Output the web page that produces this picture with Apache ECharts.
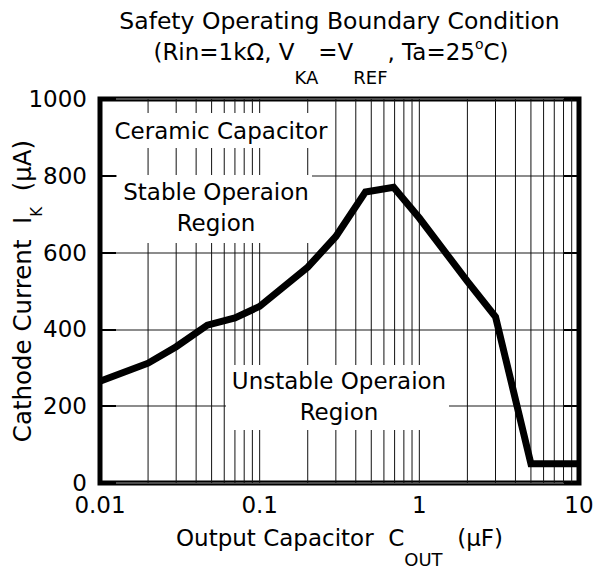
<!DOCTYPE html>
<html><head><meta charset="utf-8">
<script src="https://cdn.jsdelivr.net/npm/echarts@6/dist/echarts.min.js"></script>
<style>html,body{margin:0;padding:0;background:#fff}#c{width:595px;height:570px}</style>
</head><body><div id="c"></div>
<script>
// ---- data ----
const capacitanceUF = [0.01, 0.02, 0.03, 0.047, 0.07, 0.1, 0.2, 0.3, 0.46, 0.69, 1, 2, 3, 5, 10];
const cathodeCurrentUA = [265, 312, 355, 411, 430, 460, 562, 642, 758, 770, 690, 525, 433, 50, 50];
const xGridValues = [0.02,0.03,0.04,0.05,0.06,0.07,0.08,0.09,0.1,0.2,0.3,0.4,0.5,0.6,0.7,0.8,0.9,1,2,3,4,5,6,7,8,9];
const xTickLabels = ['0.01', '0.1', '1', '10'];
const yTickValues = [0, 200, 400, 600, 800, 1000];
const titleLine1 = 'Safety Operating Boundary Condition';
const titleLine2 = '(Rin=1k\u03A9, V{sub|KA}=V{sub|REF}, Ta=25{sup|o}C)';
const xName = 'Output Capacitor  C{sub|OUT}  (\u03BCF)';
const yName = 'Cathode Current  I{sub|K}  (\u03BCA)';
const regionCeramic = 'Ceramic Capacitor';
const regionStable = 'Stable Operaion\nRegion';
const regionUnstable = 'Unstable Operaion\nRegion';

const FONT = 'DejaVu Sans';
const chart = echarts.init(document.getElementById('c'), null, {renderer: 'svg'});

function box(x, y, w, h) {
  return {type: 'rect', z: 2, silent: true, shape: {x: x, y: y, width: w, height: h}, style: {fill: '#fff'}};
}
function label(text, x, y) {
  return {type: 'text', z: 2, silent: true, x: x, y: y,
    style: {text: text, fill: '#000', font: '23px "' + FONT + '"', align: 'center', verticalAlign: 'middle', lineHeight: 31}};
}

const option = {
  backgroundColor: '#fff',
  animation: false,
  grid: {left: 100, right: 16, top: 99, bottom: 87, containLabel: false, outerBoundsMode: 'none',
    show: true, borderColor: '#000', borderWidth: 5, backgroundColor: 'transparent'},
  xAxis: [{
    type: 'log', logBase: 10, min: 0.01, max: 10,
    name: xName, nameLocation: 'middle', nameGap: 25, nameMoveOverlap: false,
    nameTextStyle: {color: '#000', fontFamily: FONT, fontSize: 23,
      rich: {sub: {fontFamily: FONT, fontSize: 18, color: '#000', padding: [42, 0, 0, 0]}}},
    axisLine: {show: false}, axisTick: {show: false}, splitLine: {show: false},
    axisLabel: {color: '#000', fontFamily: FONT, fontSize: 23, margin: 12, lineHeight: 20,
      formatter: function (v) {
        const i = Math.round(Math.log10(v)) + 2;
        return xTickLabels[i] !== undefined ? xTickLabels[i] : '';
      }}
  }],
  yAxis: [{
    type: 'value', min: 0, max: 1000, interval: 200, position: 'left',
    name: yName, nameLocation: 'middle', nameGap: 56, nameMoveOverlap: false,
    nameTextStyle: {color: '#000', fontFamily: FONT, fontSize: 24.5,
      rich: {sub: {fontFamily: FONT, fontSize: 15, color: '#000', padding: [29, 0, 0, 0]}}},
    axisLine: {show: false},
    axisTick: {show: true, inside: true, length: 16, lineStyle: {color: '#000', width: 2}},
    splitLine: {show: true, lineStyle: {color: '#666', width: 1.5}},
    axisLabel: {color: '#000', fontFamily: FONT, fontSize: 23, margin: 13, lineHeight: 20,
      formatter: function (v) { return yTickValues.indexOf(v) >= 0 ? String(v) : ''; }}
  }, {
    type: 'value', min: 0, max: 1000, interval: 200, position: 'right',
    axisLine: {show: false}, axisLabel: {show: false}, splitLine: {show: false},
    axisTick: {show: true, inside: true, length: 15, lineStyle: {color: '#000', width: 2}}
  }],
  series: [{
    type: 'custom', z: 1, silent: true,
    data: xGridValues.map(function (v) { return [v, 0]; }),
    renderItem: function (params, api) {
      const x = api.value(0);
      const p1 = api.coord([x, 0]);
      const p2 = api.coord([x, 1000]);
      return {type: 'line', shape: {x1: p1[0], y1: p1[1], x2: p2[0], y2: p2[1]},
        style: {stroke: '#111', lineWidth: 1}};
    }
  }, {
    type: 'line', z: 5, silent: true, symbol: 'none',
    data: capacitanceUF.map(function (c, i) { return [c, cathodeCurrentUA[i]]; }),
    lineStyle: {color: '#000', width: 7, join: 'miter'}
  }],
  graphic: [
    {type: 'text', silent: true, x: 339.5, y: 21,
      style: {text: titleLine1, fill: '#000', font: '23.5px "' + FONT + '"', align: 'center', verticalAlign: 'middle'}},
    {type: 'text', silent: true, x: 331, y: 52,
      style: {text: titleLine2, fill: '#000', font: '23px "' + FONT + '"', align: 'center', verticalAlign: 'middle',
        rich: {
          sub: {fontFamily: FONT, fontSize: 18, fill: '#000', padding: [50, 0, 0, 0]},
          sup: {fontFamily: FONT, fontSize: 14, fill: '#000', padding: [0, 0, 16, 0]}
        }}},
    box(104, 113, 229, 35), label(regionCeramic, 221, 131),
    box(117, 175, 195, 68), label(regionStable, 216, 207.5),
    box(226, 365, 223, 65), label(regionUnstable, 339, 396.5)
  ]
};
chart.setOption(option);
</script></body></html>
